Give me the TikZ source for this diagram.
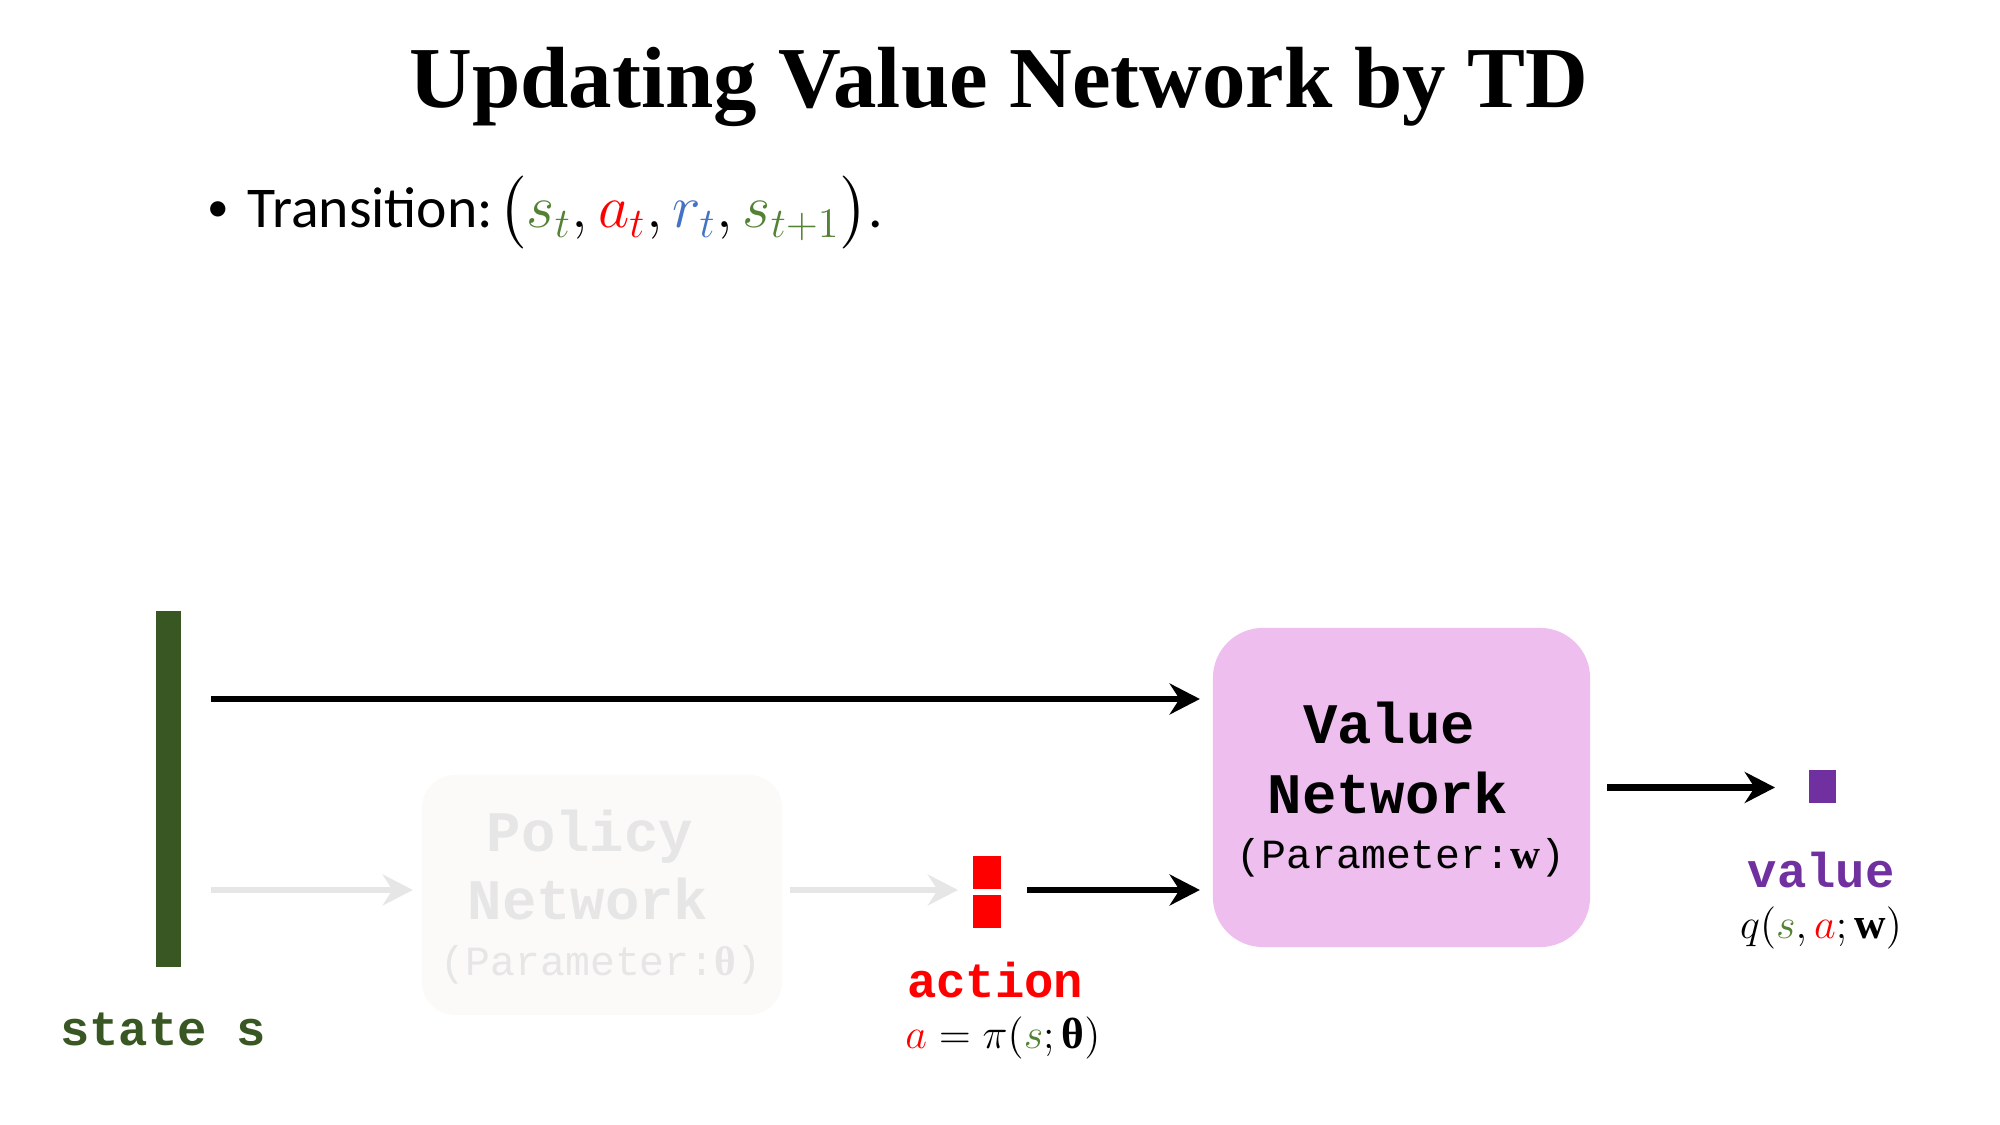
\documentclass[tikz,border=0pt]{standalone}
\usepackage{amsmath}
\usepackage{fontspec}
\setmainfont{Liberation Serif}
\setmonofont{Liberation Mono}
\newfontfamily\calibri{Carlito}
\newcommand{\bth}{\textbf{\fontspec{Liberation Serif}θ}}
\usetikzlibrary{arrows.meta,calc}
\definecolor{stategreen}{HTML}{385723}
\definecolor{sgreen}{HTML}{548235}
\definecolor{rblue}{HTML}{4472C4}
\definecolor{vpurple}{HTML}{7030A0}
\definecolor{vpink}{HTML}{EEBEEE}
\definecolor{faint}{HTML}{E6E6E6}
\definecolor{faintfill}{HTML}{FBFAF9}
\begin{document}
\begin{tikzpicture}[x=0.01cm,y=-0.01cm,
  arr/.style={line width=1.9pt,-{Stealth[length=8.6pt,width=8.8pt,inset=2.8pt]}},
  blackarr/.style={arr,draw=black},
  grayarr/.style={arr,draw=faint,fill=faint},
  block/.style={inner sep=0pt,outer sep=0pt},
  netname/.style={anchor=base,font=\ttfamily\bfseries\fontsize{16.3}{19}\selectfont},
  paramtxt/.style={anchor=base,font=\ttfamily\fontsize{11.8}{14}\selectfont},
  lbl/.style={anchor=base,font=\ttfamily\bfseries\fontsize{13.9}{16}\selectfont},
  mathlbl/.style={anchor=base,font=\fontsize{12.4}{15}\selectfont}]
\useasboundingbox (0,0) rectangle (2000,1125);
% title and bullet
\node[anchor=base,inner sep=0pt,font=\fontsize{24.7}{28}\selectfont\bfseries] (title) at (999,108) {Updating Value Network by TD};
\node[anchor=base west,inner sep=0pt,font=\calibri\fontsize{16.4}{19}\selectfont] (bullet) at (207,228)
  {\raisebox{0.12em}{\scalebox{0.75}{•}}\hspace{0.32em}Transition:\hspace{0.1em}$\bigl(\textcolor{sgreen}{s_t},\textcolor{red}{a_t},\textcolor{rblue}{r_t},\textcolor{sgreen}{s_{t+1}}\bigr)$.};
% state
\node[block,fill=stategreen,minimum width=0.25cm,minimum height=3.56cm] (state) at (168.5,789) {};
\node[lbl,text=stategreen] (statelbl) at (163,1045) {state s};
% policy network (faded)
\node[block,fill=faintfill,minimum width=3.6cm,minimum height=2.4cm,rounded corners=0.33cm] (pnet) at (602,895) {};
\node[netname,text=faint] (pt1) at (590,851) {Policy};
\node[netname,text=faint] (pt2) at (588,919) {Network};
\node[paramtxt,text=faint] (pt3) at (601,975) {(Parameter:\bth)};
% action
\node[block,fill=red,minimum width=0.28cm,minimum height=0.33cm] (acta) at (987,872.5) {};
\node[block,fill=red,minimum width=0.28cm,minimum height=0.33cm] (actb) at (987,911.5) {};
\node[lbl,text=red] (actlbl) at (995,997) {action};
\node[mathlbl] (actmath) at (1003,1048) {$\textcolor{red}{a}=\pi(\textcolor{sgreen}{s};\text{\bth})$};
% value network
\node[block,fill=vpink,minimum width=3.77cm,minimum height=3.19cm,rounded corners=0.5cm] (vnet) at (1401.5,787.5) {};
\node[netname] (vt1) at (1389,743) {Value};
\node[netname] (vt2) at (1388,813) {Network};
\node[paramtxt] (vt3) at (1401,868) {(Parameter:$\mathbf{w}$)};
% value output
\node[block,fill=vpurple,minimum width=0.27cm,minimum height=0.33cm] (val) at (1822.5,786.5) {};
\node[lbl,text=vpurple] (vallbl) at (1821,887) {value};
\node[mathlbl] (qlbl) at (1821,938) {$q(\textcolor{sgreen}{s},\textcolor{red}{a};\mathbf{w})$};
% connectors
\coordinate (toprow) at (0,699);
\coordinate (botrow) at (0,890);
\draw[blackarr] ($(state.east |- toprow)+(30,0)$) -- ($(vnet.west |- toprow)+(-13,0)$);
\draw[grayarr] ($(state.east |- botrow)+(30,0)$) -- ($(pnet.west |- botrow)+(-9,0)$);
\draw[grayarr] ($(pnet.east |- botrow)+(8,0)$) -- ($(acta.west |- botrow)+(-15,0)$);
\draw[blackarr] ($(acta.east |- botrow)+(26,0)$) -- ($(vnet.west |- botrow)+(-13,0)$);
\draw[blackarr] ($(vnet.east)+(17,0)$) -- ($(val.west |- vnet.east)+(-34,0)$);
\end{tikzpicture}
\end{document}
